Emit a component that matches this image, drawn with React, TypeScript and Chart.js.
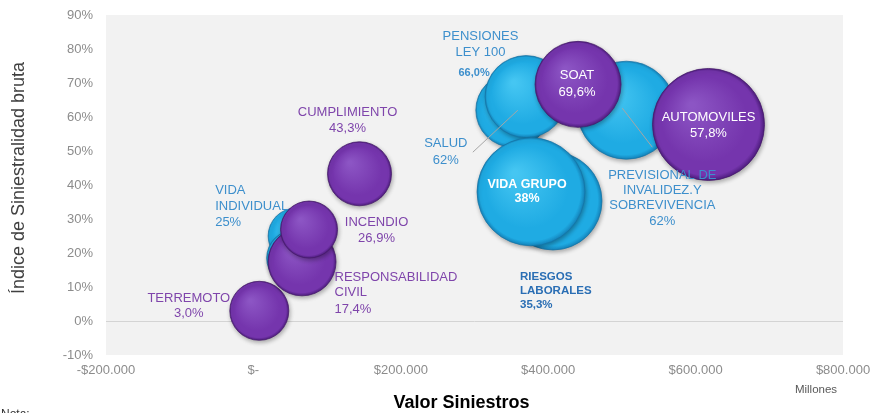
import React, { useEffect, useRef } from "react";
import { Chart, registerables } from "chart.js";

Chart.register(...registerables);

// ---------- DATA ----------
const xTickValues = [-200000, 0, 200000, 400000, 600000, 800000];
const yTickValues = [-0.1, 0, 0.1, 0.2, 0.3, 0.4, 0.5, 0.6, 0.7, 0.8, 0.9];

// Ramos de vida / seguridad social (azul)
const blueNames = ["VIDA INDIVIDUAL", "OTROS", "SALUD", "PENSIONES LEY 100", "PREVISIONAL DE INVALIDEZ Y SOBREVIVENCIA", "RIESGOS LABORALES", "VIDA GRUPO"];
const blueSiniestros = [58000, 56000, 352000, 370000, 506000, 406500, 376700];
const blueIndice = [0.25, 0.185, 0.62, 0.66, 0.62, 0.353, 0.38];
const blueBubble = [28, 28, 37, 41, 49, 49, 54];
const blueLabels = [
  ["VIDA", "INDIVIDUAL", "25%"],
  [],
  ["SALUD", "62%"],
  ["PENSIONES", "LEY 100", "66,0%"],
  ["PREVISIONAL DE", "INVALIDEZ.Y", "SOBREVIVENCIA", "62%"],
  ["RIESGOS", "LABORALES", "35,3%"],
  ["VIDA GRUPO", "38%"],
];

// Ramos generales (morado)
const purpleNames = ["TERREMOTO", "RESPONSABILIDAD CIVIL", "INCENDIO", "CUMPLIMIENTO", "SOAT", "AUTOMOVILES"];
const purpleSiniestros = [8000, 66000, 75500, 144000, 440500, 617500];
const purpleIndice = [0.03, 0.174, 0.269, 0.433, 0.696, 0.578];
const purpleBubble = [29.5, 34, 28.5, 32, 43, 56];
const purpleLabels = [
  ["TERREMOTO", "3,0%"],
  ["RESPONSABILIDAD", "CIVIL", "17,4%"],
  ["INCENDIO", "26,9%"],
  ["CUMPLIMIENTO", "43,3%"],
  ["SOAT", "69,6%"],
  ["AUTOMOVILES", "57,8%"],
];

// ---------- LABEL LAYOUT (offsets from bubble centre, styles) ----------
const FONT = "'Liberation Sans', Arial, sans-serif";
const BLUE_TXT = "#3d8fcc";
const BLUE_DARK = "#2a6eb4";
const PURPLE_TXT = "#7f45ab";
const WHITE = "#ffffff";

type LineStyle = { dx: number; dy: number; align?: CanvasTextAlign; bold?: boolean; size?: number; color: string };
const blueLayout: LineStyle[][] = [
  [
    { dx: -81, dy: -46, align: "left", color: BLUE_TXT },
    { dx: -81, dy: -30, align: "left", color: BLUE_TXT },
    { dx: -81, dy: -14, align: "left", color: BLUE_TXT },
  ],
  [],
  [
    { dx: -67, dy: 33, color: BLUE_TXT },
    { dx: -67, dy: 50, color: BLUE_TXT },
  ],
  [
    { dx: -45.6, dy: -60.6, color: BLUE_TXT },
    { dx: -45.6, dy: -44.6, color: BLUE_TXT },
    { dx: -52, dy: -24, color: BLUE_TXT, bold: true, size: 11 },
  ],
  [
    { dx: 36, dy: 65, color: BLUE_TXT },
    { dx: 36, dy: 80.5, color: BLUE_TXT },
    { dx: 36, dy: 95.5, color: BLUE_TXT },
    { dx: 36, dy: 111.5, color: BLUE_TXT },
  ],
  [
    { dx: -33, dy: 76, align: "left", color: BLUE_DARK, bold: true, size: 11.5 },
    { dx: -33, dy: 90, align: "left", color: BLUE_DARK, bold: true, size: 11.5 },
    { dx: -33, dy: 104, align: "left", color: BLUE_DARK, bold: true, size: 11.5 },
  ],
  [
    { dx: -4, dy: -7.5, color: WHITE, bold: true, size: 12.5 },
    { dx: -4, dy: 6.5, color: WHITE, bold: true, size: 12.5 },
  ],
];
const purpleLayout: LineStyle[][] = [
  [
    { dx: -70.5, dy: -12, color: PURPLE_TXT },
    { dx: -70.5, dy: 3, color: PURPLE_TXT },
  ],
  [
    { dx: 32.5, dy: 16, align: "left", color: PURPLE_TXT },
    { dx: 32.5, dy: 31, align: "left", color: PURPLE_TXT },
    { dx: 32.5, dy: 48, align: "left", color: PURPLE_TXT },
  ],
  [
    { dx: 67.5, dy: -7.5, color: PURPLE_TXT },
    { dx: 67.5, dy: 8.5, color: PURPLE_TXT },
  ],
  [
    { dx: -12, dy: -61, color: PURPLE_TXT },
    { dx: -12, dy: -45, color: PURPLE_TXT },
  ],
  [
    { dx: -1, dy: -9.4, color: WHITE },
    { dx: -1, dy: 7.6, color: WHITE },
  ],
  [
    { dx: 0, dy: -7.5, color: WHITE },
    { dx: 0, dy: 8.5, color: WHITE },
  ],
];
// leader lines: [datasetIndex, pointIndex, fromDx, fromDy, toDx, toDy]
const leaders: number[][] = [
  [1, 2, 5, 0, -40, 42],
  [1, 4, -4, -2, 26, 37],
];

function fmtMoney(v: number): string {
  if (Math.abs(v) < 1e-9) return "$-";
  const s = Math.abs(v).toFixed(0).replace(/\B(?=(\d{3})+(?!\d))/g, ".");
  return (v < 0 ? "-$" : "$") + s;
}

function sphere(light: string, base: string, dark: string) {
  return (c: any) => {
    const chart = c.chart;
    const raw = c.raw;
    if (!raw || !chart.scales || !chart.scales.x) return base;
    const x = chart.scales.x.getPixelForValue(raw.x);
    const y = chart.scales.y.getPixelForValue(raw.y);
    const r = raw.r;
    if (!isFinite(x) || !isFinite(y)) return base;
    const g = chart.ctx.createRadialGradient(x - r * 0.3, y - r * 0.35, r * 0.05, x, y, r);
    g.addColorStop(0, light);
    g.addColorStop(0.75, base);
    g.addColorStop(0.93, base);
    g.addColorStop(1, dark);
    return g;
  };
}

const bgPlugin = {
  id: "plotBg",
  beforeDraw(chart: any) {
    const { ctx, chartArea: a } = chart;
    ctx.save();
    ctx.fillStyle = "#f2f2f2";
    ctx.fillRect(a.left, a.top, a.right - a.left, a.bottom - a.top);
    ctx.restore();
  },
  beforeDatasetDraw(chart: any) {
    const ctx = chart.ctx;
    ctx.shadowColor = "rgba(0,0,0,0.3)";
    ctx.shadowBlur = 4;
    ctx.shadowOffsetX = 1;
    ctx.shadowOffsetY = 2;
  },
  afterDatasetDraw(chart: any) {
    const ctx = chart.ctx;
    ctx.shadowColor = "rgba(0,0,0,0)";
    ctx.shadowBlur = 0;
    ctx.shadowOffsetX = 0;
    ctx.shadowOffsetY = 0;
  },
};

const labelPlugin = {
  id: "bubbleLabels",
  afterDatasetsDraw(chart: any) {
    const ctx = chart.ctx;
    ctx.save();
    // leader lines
    ctx.strokeStyle = "#a6a6a6";
    ctx.lineWidth = 1;
    leaders.forEach(([ds, i, fx, fy, tx, ty]) => {
      const el = chart.getDatasetMeta(ds).data[i];
      if (!el) return;
      ctx.beginPath();
      ctx.moveTo(el.x + fx, el.y + fy);
      ctx.lineTo(el.x + tx, el.y + ty);
      ctx.stroke();
    });
    const sets = [
      { labels: purpleLabels, layout: purpleLayout },
      { labels: blueLabels, layout: blueLayout },
    ];
    sets.forEach((s, ds) => {
      const meta = chart.getDatasetMeta(ds);
      s.labels.forEach((lines, i) => {
        const el = meta.data[i];
        if (!el) return;
        lines.forEach((txt, j) => {
          const st = s.layout[i][j];
          ctx.font = `${st.bold ? "bold " : ""}${st.size || 13}px ${FONT}`;
          ctx.fillStyle = st.color;
          ctx.textAlign = st.align || "center";
          ctx.textBaseline = "middle";
          ctx.fillText(txt, el.x + st.dx, el.y + st.dy);
        });
      });
    });
    ctx.restore();
  },
  afterDraw(chart: any) {
    const ctx = chart.ctx;
    const a = chart.chartArea;
    ctx.save();
    ctx.fillStyle = "#404040";
    ctx.font = `18px ${FONT}`;
    ctx.textAlign = "center";
    ctx.textBaseline = "middle";
    ctx.translate(19, (a.top + a.bottom) / 2 - 7);
    ctx.rotate(-Math.PI / 2);
    ctx.fillText("Índice de Siniestralidad bruta", 0, 0);
    ctx.restore();

    ctx.save();
    ctx.fillStyle = "#000000";
    ctx.font = `bold 18px ${FONT}`;
    ctx.textAlign = "center";
    ctx.textBaseline = "middle";
    ctx.fillText("Valor Siniestros", (a.left + a.right) / 2 - 13, a.bottom + 48);
    ctx.fillStyle = "#595959";
    ctx.font = `11.5px ${FONT}`;
    ctx.fillText("Millones", a.right - 27, a.bottom + 35);
    ctx.fillStyle = "#333333";
    ctx.font = `12px ${FONT}`;
    ctx.textAlign = "left";
    ctx.textBaseline = "top";
    ctx.fillText("Nota:", 1, 409);
    ctx.restore();
  },
};

function noScalePadding(s: any) {
  s.paddingTop = 0;
  s.paddingBottom = 0;
  s.paddingLeft = 0;
  s.paddingRight = 0;
}

export default function App() {
  const canvasRef = useRef<HTMLCanvasElement | null>(null);

  useEffect(() => {
    document.body.style.margin = "0";
    const canvas = canvasRef.current;
    if (!canvas) return;
    Chart.defaults.font.family = FONT;

    const purpleData = purpleNames.map((_, i) => ({ x: purpleSiniestros[i], y: purpleIndice[i], r: purpleBubble[i] }));
    const blueData = blueNames.map((_, i) => ({ x: blueSiniestros[i], y: blueIndice[i], r: blueBubble[i] }));

    const chart = new Chart(canvas, {
      type: "bubble",
      data: {
        datasets: [
          {
            label: "Generales",
            data: purpleData,
            order: 1,
            backgroundColor: sphere("#8c55c4", "#7535ad", "#4f1d80"),
            borderColor: "rgba(70,25,105,0.75)",
            borderWidth: 1,
            clip: false,
          },
          {
            label: "Vida",
            data: blueData,
            order: 2,
            backgroundColor: sphere("#45c6f2", "#1fabe3", "#1585bd"),
            borderColor: "rgba(20,115,165,0.7)",
            borderWidth: 1,
            clip: false,
          },
        ],
      },
      options: {
        animation: false,
        responsive: true,
        maintainAspectRatio: false,
        events: [],
        layout: { autoPadding: false, padding: { left: 0, top: 15, right: 27, bottom: 0 } },
        plugins: {
          legend: { display: false },
          tooltip: { enabled: false },
        },
        scales: {
          x: {
            type: "linear",
            min: xTickValues[0],
            max: xTickValues[xTickValues.length - 1],
            afterFit: (s: any) => {
              s.height = 58;
              noScalePadding(s);
            },
            afterBuildTicks: (s: any) => {
              s.ticks = xTickValues.map((v) => ({ value: v }));
            },
            ticks: {
              color: "#8c8c8c",
              font: { size: 13 },
              padding: 8,
              maxRotation: 0,
              autoSkip: false,
              callback: (v: any) => fmtMoney(Number(v)),
            },
            grid: { display: false, drawTicks: false },
            border: { display: false },
          },
          y: {
            type: "linear",
            min: yTickValues[0],
            max: yTickValues[yTickValues.length - 1],
            afterFit: (s: any) => {
              s.width = 106;
              noScalePadding(s);
            },
            afterBuildTicks: (s: any) => {
              s.ticks = yTickValues.map((v) => ({ value: v }));
            },
            ticks: {
              color: "#8c8c8c",
              font: { size: 13 },
              padding: 13,
              autoSkip: false,
              callback: (v: any) => Math.round(Number(v) * 100) + "%",
            },
            grid: {
              drawTicks: false,
              color: (c: any) => (c.tick && Math.abs(c.tick.value) < 1e-9 ? "#d4d4d4" : "rgba(0,0,0,0)"),
              lineWidth: 1,
            },
            border: { display: false },
          },
        },
      },
      plugins: [bgPlugin, labelPlugin],
    } as any);

    return () => chart.destroy();
  }, []);

  return (
    <div style={{ position: "relative", width: "870px", height: "413px" }}>
      <canvas ref={canvasRef} />
    </div>
  );
}
